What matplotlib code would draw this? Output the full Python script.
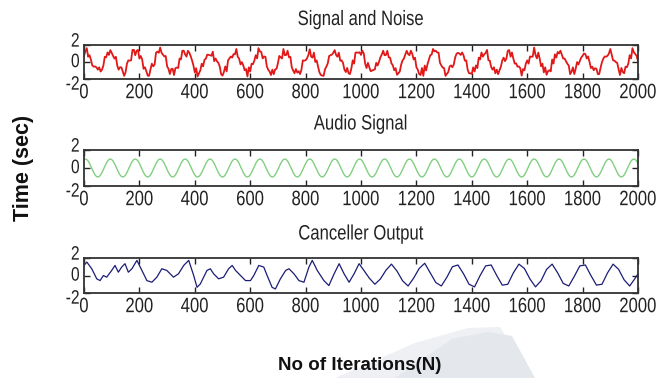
import matplotlib
matplotlib.use('Agg')
import matplotlib.pyplot as plt
from matplotlib.patches import Polygon
from matplotlib.patheffects import AbstractPathEffect
from matplotlib.transforms import Affine2D, ScaledTranslation
import numpy as np

# ---------------- data ----------------
iter_step5 = np.arange(0, 2001, 5)

signal_noise = [
    0.73, 1.25, 1.63, 0.62, 0.80, 0.26, -0.41, -0.55, -0.52, -0.63, -0.90, -0.63, -1.12, -0.90, -0.41, 0.61,
    0.55, 1.12, 0.83, 1.40, 1.08, 0.72, 0.40, 0.61, -0.41, -0.90, -0.62, -0.63, -1.15, -1.63, -1.22, -0.20, 0.19, 0.16,
    0.20, 1.42, 1.43, 0.80, 1.33, 1.42, 0.40, 0.71, 0.29, -0.80, -0.62, -1.08, -1.60, -1.63, -0.87, -0.20, -0.51, -0.29,
    1.10, 1.22, 1.08, 1.70, 1.08, 0.87, 0.65, 0.71, -0.51, -0.80, -1.42, -0.83, -0.80, -1.53, -0.72, -0.65, -0.71, 0.41,
    0.30, 1.32, 1.33, 0.90, 0.63, 1.32, 1.10, 0.71, 0.19, -0.40, -1.22, -0.73, -1.70, -1.33, -0.97, -0.20, -0.51, 0.26,
    0.40, 0.87, 0.83, 0.80, 0.73, 1.22, 0.10, 0.41, 0.09, -0.10, -0.52, -1.43, -1.60, -1.18, -0.52, -1.10, 0.19, 0.41,
    0.65, 0.52, 0.93, 0.90, 1.53, 0.62, 0.40, -0.29, -0.01, -0.40, -0.97, -0.83, -1.70, -0.63, -1.12, -0.20, -0.26, 0.16,
    0.80, 0.42, 1.63, 1.25, 1.18, 0.42, 0.65, 0.61, -0.51, -0.90, -1.12, -1.53, -0.90, -1.43, -0.87, -0.80, -0.16, 0.71,
    0.55, 0.42, 1.53, 0.80, 0.83, 1.32, 0.55, 0.61, -0.61, -1.00, -1.32, -0.83, -1.25, -1.08, -1.42, -0.90, 0.19, 0.16,
    0.20, 0.42, 0.83, 1.50, 0.63, 0.52, 1.10, 0.01, 0.19, -0.55, -1.22, -1.53, -1.60, -1.63, -0.87, -0.55, -0.16, 0.71,
    0.80, 0.87, 1.08, 1.40, 0.83, 0.62, 1.10, 0.16, 0.19, -0.10, -0.87, -1.18, -0.70, -1.33, -1.42, -0.80, 0.19, -0.19,
    1.10, 1.12, 1.08, 1.15, 0.83, 1.32, 1.00, -0.19, -0.71, -0.10, -0.62, -1.08, -1.00, -0.93, -0.87, -0.10, -0.41, 0.01,
    0.55, 0.87, 1.33, 0.80, 0.83, 1.32, 0.55, 0.51, -0.16, -0.40, -0.97, -0.73, -1.50, -1.33, -1.12, -0.30, 0.19, 0.41,
    0.90, 1.32, 0.93, 0.80, 1.33, 0.97, 0.30, 0.51, -0.61, -0.90, -1.42, -1.53, -0.70, -1.63, -0.42, -1.00, -0.26, 0.26,
    0.80, 0.87, 1.53, 1.25, 1.33, 1.12, 1.10, -0.09, -0.41, -0.65, -0.72, -1.63, -1.40, -1.18, -0.52, -0.40, -0.61, -0.29,
    0.55, 0.97, 1.08, 1.00, 0.83, 1.12, 0.80, 0.16, 0.19, -0.90, -1.32, -1.33, -1.40, -0.63, -1.12, -0.40, -0.71, 0.51,
    0.30, 1.12, 0.63, 0.90, 1.08, 1.42, 0.20, 0.16, -0.61, -0.90, -0.62, -1.33, -0.90, -1.43, -0.97, -0.55, 0.19, 0.51,
    0.10, 0.42, 1.33, 1.40, 0.63, 1.12, 0.40, -0.19, -0.16, -0.55, -0.52, -0.73, -1.60, -0.83, -0.97, -0.20, 0.19, -0.19,
    0.65, 0.62, 0.63, 1.70, 0.83, 0.42, 1.10, 0.41, -0.51, -0.20, -1.22, -0.63, -1.50, -1.08, -0.97, -1.10, 0.29, -0.19,
    0.90, 0.52, 1.18, 1.00, 1.33, 0.87, 0.40, 0.41, 0.09, -0.20, -0.42, -1.43, -1.15, -0.63, -1.42, -0.80, -0.01, -0.29,
    0.10, 0.52, 0.73, 1.00, 0.93, 0.42, 0.65, 0.01, -0.71, -0.55, -0.97, -0.73, -0.80, -1.43, -1.42, -0.65, -0.01, 0.41,
    0.65, 0.62, 0.73, 1.00, 1.53, 0.87, 0.20, 0.16, -0.01, -0.10, -0.87, -1.53, -0.70, -1.18, -1.32, -0.55, -0.61, -0.19,
    0.80, 0.42, 1.63, 1.15, 0.93, 0.72, 0.10,
]

audio_signal = [
    0.94, 1.00, 0.94, 0.77, 0.50, 0.17, -0.17, -0.50, -0.77, -0.94, -1.00, -0.94, -0.77, -0.50, -0.17, 0.17,
    0.50, 0.77, 0.94, 1.00, 0.94, 0.77, 0.50, 0.17, -0.17, -0.50, -0.77, -0.94, -1.00, -0.94, -0.77, -0.50, -0.17, 0.17,
    0.50, 0.77, 0.94, 1.00, 0.94, 0.77, 0.50, 0.17, -0.17, -0.50, -0.77, -0.94, -1.00, -0.94, -0.77, -0.50, -0.17, 0.17,
    0.50, 0.77, 0.94, 1.00, 0.94, 0.77, 0.50, 0.17, -0.17, -0.50, -0.77, -0.94, -1.00, -0.94, -0.77, -0.50, -0.17, 0.17,
    0.50, 0.77, 0.94, 1.00, 0.94, 0.77, 0.50, 0.17, -0.17, -0.50, -0.77, -0.94, -1.00, -0.94, -0.77, -0.50, -0.17, 0.17,
    0.50, 0.77, 0.94, 1.00, 0.94, 0.77, 0.50, 0.17, -0.17, -0.50, -0.77, -0.94, -1.00, -0.94, -0.77, -0.50, -0.17, 0.17,
    0.50, 0.77, 0.94, 1.00, 0.94, 0.77, 0.50, 0.17, -0.17, -0.50, -0.77, -0.94, -1.00, -0.94, -0.77, -0.50, -0.17, 0.17,
    0.50, 0.77, 0.94, 1.00, 0.94, 0.77, 0.50, 0.17, -0.17, -0.50, -0.77, -0.94, -1.00, -0.94, -0.77, -0.50, -0.17, 0.17,
    0.50, 0.77, 0.94, 1.00, 0.94, 0.77, 0.50, 0.17, -0.17, -0.50, -0.77, -0.94, -1.00, -0.94, -0.77, -0.50, -0.17, 0.17,
    0.50, 0.77, 0.94, 1.00, 0.94, 0.77, 0.50, 0.17, -0.17, -0.50, -0.77, -0.94, -1.00, -0.94, -0.77, -0.50, -0.17, 0.17,
    0.50, 0.77, 0.94, 1.00, 0.94, 0.77, 0.50, 0.17, -0.17, -0.50, -0.77, -0.94, -1.00, -0.94, -0.77, -0.50, -0.17, 0.17,
    0.50, 0.77, 0.94, 1.00, 0.94, 0.77, 0.50, 0.17, -0.17, -0.50, -0.77, -0.94, -1.00, -0.94, -0.77, -0.50, -0.17, 0.17,
    0.50, 0.77, 0.94, 1.00, 0.94, 0.77, 0.50, 0.17, -0.17, -0.50, -0.77, -0.94, -1.00, -0.94, -0.77, -0.50, -0.17, 0.17,
    0.50, 0.77, 0.94, 1.00, 0.94, 0.77, 0.50, 0.17, -0.17, -0.50, -0.77, -0.94, -1.00, -0.94, -0.77, -0.50, -0.17, 0.17,
    0.50, 0.77, 0.94, 1.00, 0.94, 0.77, 0.50, 0.17, -0.17, -0.50, -0.77, -0.94, -1.00, -0.94, -0.77, -0.50, -0.17, 0.17,
    0.50, 0.77, 0.94, 1.00, 0.94, 0.77, 0.50, 0.17, -0.17, -0.50, -0.77, -0.94, -1.00, -0.94, -0.77, -0.50, -0.17, 0.17,
    0.50, 0.77, 0.94, 1.00, 0.94, 0.77, 0.50, 0.17, -0.17, -0.50, -0.77, -0.94, -1.00, -0.94, -0.77, -0.50, -0.17, 0.17,
    0.50, 0.77, 0.94, 1.00, 0.94, 0.77, 0.50, 0.17, -0.17, -0.50, -0.77, -0.94, -1.00, -0.94, -0.77, -0.50, -0.17, 0.17,
    0.50, 0.77, 0.94, 1.00, 0.94, 0.77, 0.50, 0.17, -0.17, -0.50, -0.77, -0.94, -1.00, -0.94, -0.77, -0.50, -0.17, 0.17,
    0.50, 0.77, 0.94, 1.00, 0.94, 0.77, 0.50, 0.17, -0.17, -0.50, -0.77, -0.94, -1.00, -0.94, -0.77, -0.50, -0.17, 0.17,
    0.50, 0.77, 0.94, 1.00, 0.94, 0.77, 0.50, 0.17, -0.17, -0.50, -0.77, -0.94, -1.00, -0.94, -0.77, -0.50, -0.17, 0.17,
    0.50, 0.77, 0.94, 1.00, 0.94, 0.77, 0.50, 0.17, -0.17, -0.50, -0.77, -0.94, -1.00, -0.94, -0.77, -0.50, -0.17, 0.17,
    0.50, 0.77, 0.94, 1.00, 0.94, 0.77, 0.50,
]

canceller_x = [0, 10, 28, 46, 58, 70, 82, 100, 112, 124, 136, 148, 160, 173, 191, 209, 227, 245, 263, 281,
               299, 323, 341, 360, 378, 396, 408, 420, 444, 456, 468, 486, 504, 522, 535, 547, 565, 583, 601, 613,
               631, 649, 661, 679, 691, 709, 728, 740, 758, 776, 794, 812, 824, 842, 866, 884, 903, 921, 939, 957,
               975, 993, 1010, 1030, 1050, 1070, 1090, 1110, 1130, 1150, 1170, 1190, 1210, 1230, 1250, 1270, 1290, 1310,
               1330, 1350, 1370, 1390, 1410, 1430, 1450, 1470, 1490, 1510, 1530, 1550, 1570, 1590, 1610, 1630, 1650,
               1670, 1690, 1710, 1730, 1750, 1770, 1790, 1810, 1830, 1850, 1870, 1890, 1910, 1930, 1950, 1970, 1990, 2000]
canceller_y = [1.15, 1.54, 0.77, -0.38, -0.58, 0.00, -0.19, 0.58, 1.15, 0.38, 0.96, 1.35, 0.38, 0.77, 1.73, 0.58, -0.58, -0.77, -0.19, 0.77,
               0.58, -0.19, 0.19, 1.15, 1.73, 0.00, -1.35, -0.96, 0.58, 0.77, 0.19, -0.38, -0.19, 0.77, 1.15, 0.58, 0.00, -0.58, -0.58, 0.00,
               1.15, 0.96, 0.00, -1.35, -1.54, -0.38, 0.58, 0.77, 0.19, -0.58, -0.77, 0.96, 1.73, 0.58, -0.58, -1.15, 0.19, 1.35, 0.19, -0.77,
               0.19, 1.35, 0.60, -0.30, -1.00, -0.40, 0.60, 1.30, 0.50, -0.60, -1.20, -0.30, 0.80, 1.40, 0.30, -0.80, -1.20, -0.20,
               1.00, 1.20, 0.20, -1.00, -1.30, 0.00, 1.10, 1.20, 0.00, -1.10, -1.00, 0.30, 1.30, 0.80, -0.40, -1.30, -0.60,
               0.70, 1.30, 0.30, -0.90, -1.20, -0.10, 1.10, 1.20, 0.00, -1.10, -1.00, 0.30, 1.30, 0.70, -0.50, -1.20, -0.30, 0.20]

x_ticks = [0, 200, 400, 600, 800, 1000, 1200, 1400, 1600, 1800, 2000]
y_ticks = [-2, 0, 2]
titles = ["Signal and Noise", "Audio Signal", "Canceller Output"]
x_label = "No of Iterations(N)"
y_label = "Time (sec)"


# ---------------- narrow-looking text (MATLAB style condensed glyphs) ----------------
class Narrow(AbstractPathEffect):
    def __init__(self, sx=0.8, anchor='center'):
        super().__init__()
        self.sx = sx
        self.anchor = anchor

    def draw_path(self, renderer, gc, tpath, affine, rgbFace=None):
        ext = tpath.get_extents()
        if self.anchor == 'right':
            cx = ext.x1
        elif self.anchor == 'left':
            cx = ext.x0
        else:
            cx = 0.5 * (ext.x0 + ext.x1)
        a = Affine2D().translate(-cx, 0).scale(self.sx, 1.0).translate(cx, 0) + affine
        renderer.draw_path(gc, tpath, a, rgbFace)


FONT = 'Liberation Sans'
TICK_FS = 15
YTICK_FS = 14
SX = 0.8

# ---------------- figure ----------------
W, H = 669, 378
fig = plt.figure(figsize=(W / 100, H / 100), dpi=100)
fig.patch.set_facecolor('white')

# faint watermark shapes bottom right
wm = [[(335, 378), (415, 343), (468, 328), (500, 327), (532, 378)],
      [(395, 378), (452, 339), (488, 332), (512, 336), (535, 378)]]
for poly, c in zip(wm, ['#eef0f3', '#e4e7ec']):
    pts = [(px / W, 1 - py / H) for px, py in poly]
    fig.patches.append(Polygon(pts, closed=True, transform=fig.transFigure,
                               facecolor=c, edgecolor='none', zorder=0))

left, right = 84, 638
boxes = [(45, 79), (150, 186), (258, 293)]
title_base = [25, 129.5, 239.5]
series = [
    (iter_step5, signal_noise, '#e01818', 1.3),
    (iter_step5, audio_signal, '#80cf80', 1.0),
    (canceller_x, canceller_y, '#1c1c78', 0.9),
]
# vertical nudges (in points) of the -2 / 0 / 2 labels, as in the reference
ylab_dy = {-2: -3.0, 0: 1.0, 2: 3.5}

for (top, bot), (xs, ys, col, lw), ttl, tb in zip(boxes, series, titles, title_base):
    ax = fig.add_axes([left / W, 1 - bot / H, (right - left) / W, (bot - top) / H])
    ax.plot(xs, ys, color=col, lw=lw)
    ax.set_xlim(0, 2000)
    ax.set_ylim(-2, 2)
    ax.set_xticks(x_ticks)
    ax.set_yticks(y_ticks)
    ax.set_xticklabels([str(t) for t in x_ticks])
    ax.set_yticklabels([str(t) for t in y_ticks])
    ax.tick_params(direction='in', top=True, right=True, length=4.5, width=1.0,
                   color='#222222', labelcolor='#222222')
    ax.tick_params(axis='x', pad=3, labelsize=TICK_FS)
    ax.tick_params(axis='y', pad=3, labelsize=YTICK_FS)
    for lab in ax.get_xticklabels():
        lab.set_fontfamily(FONT)
        lab.set_path_effects([Narrow(SX, 'center')])
    for t, lab in zip(y_ticks, ax.get_yticklabels()):
        lab.set_fontfamily(FONT)
        lab.set_path_effects([Narrow(SX, 'right')])
        lab.set_transform(lab.get_transform() +
                          ScaledTranslation(0, ylab_dy[t] / 72, fig.dpi_scale_trans))
    for s in ax.spines.values():
        s.set_linewidth(1.3)
        s.set_color('#333333')
    fig.text((left + right) / 2 / W, 1 - tb / H, ttl, ha='center', va='baseline',
             fontsize=TICK_FS, family=FONT, color='#222222',
             path_effects=[Narrow(SX, 'center')])

fig.text(23 / W, 1 - 168 / H, y_label, rotation=90, ha='center', va='center',
         fontsize=15.5, fontweight='bold', family=FONT, color='#111111')
fig.text(360 / W, 1 - 366 / H, x_label, ha='center', va='center',
         fontsize=13.5, fontweight='bold', family=FONT, color='#111111')

fig.savefig('out.png', dpi=100, facecolor='white')
